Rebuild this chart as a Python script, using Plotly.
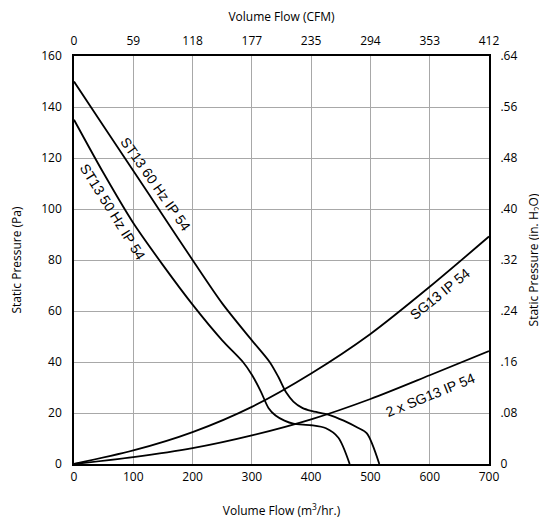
import plotly.graph_objects as go

# fan curves, volume flow in m3/hr, static pressure in Pa
st60_x = [0, 50, 100, 150, 200, 250, 300, 330, 345, 358, 370, 385, 400, 430, 455, 478, 494, 515]
st60_y = [150, 132.5, 115, 97.5, 80, 63, 48.5, 40, 34, 28, 24.5, 22, 20.8, 19.3, 17, 14.3, 12, 0]

st50_x = [0, 50, 100, 150, 200, 250, 285, 300, 315, 328, 340, 355, 370, 400, 425, 446, 465]
st50_y = [135, 114, 94.5, 78, 62.5, 48.5, 40, 35, 28.5, 22, 19, 17, 15.8, 15.2, 14, 10.3, 0]

# system curves
sg_x = [0, 100, 200, 300, 400, 500, 600, 700]
sg_y = [0, 5.3, 12.5, 22.4, 35.5, 51, 69.5, 89.2]

sg2_x = [0, 100, 200, 300, 400, 500, 600, 700]
sg2_y = [0, 2.7, 6.2, 11.2, 17.5, 25.5, 34.8, 44.3]

m3h_ticks = [0, 100, 200, 300, 400, 500, 600, 700]
cfm_labels = ["0", "59", "118", "177", "235", "294", "353", "412"]
pa_ticks = [0, 20, 40, 60, 80, 100, 120, 140, 160]
inh2o_labels = ["0", ".08", ".16", ".24", ".32", ".40", ".48", ".56", ".64"]

AXIS_FONT = dict(family="Open Sans, Lato, sans-serif", size=12, color="black")
LABEL_FONT = dict(family="Liberation Sans, Arial, sans-serif", size=14, color="black")
GRID = "#a8a8a8"

fig = go.Figure()

for xs, ys in [(st60_x, st60_y), (st50_x, st50_y), (sg_x, sg_y), (sg2_x, sg2_y)]:
    fig.add_trace(
        go.Scatter(
            x=xs, y=ys, mode="lines",
            line=dict(color="black", width=1.8, shape="spline", smoothing=0.8),
            showlegend=False, hoverinfo="skip",
        )
    )

# dummy trace so the secondary axes render
fig.add_trace(
    go.Scatter(
        x=[0, 700], y=[0, 160], xaxis="x2", yaxis="y2", mode="markers",
        marker=dict(opacity=0), showlegend=False, hoverinfo="skip",
    )
)

labels = [
    ("ST13 60 Hz IP 54", 138, 110, 55),
    ("ST13 50 Hz IP 54", 66, 99, 58),
    ("SG13 IP 54", 617, 66.6, -39),
    ("2 x SG13 IP 54", 601, 27, -22),
]
for text, x, y, ang in labels:
    fig.add_annotation(
        x=x, y=y, text=text, textangle=ang, showarrow=False,
        font=LABEL_FONT, xref="x", yref="y",
    )

# page body has an 8px margin, so the figure is shrunk by that much
fig.update_layout(
    width=539, height=516,
    margin=dict(l=66, r=58, t=48, b=60),
    plot_bgcolor="white", paper_bgcolor="white",
    font=AXIS_FONT,
    xaxis=dict(
        range=[0, 700], tickvals=m3h_ticks, showgrid=True, gridcolor=GRID, gridwidth=1,
        zeroline=False, showline=True, linecolor="black", linewidth=1.5, mirror=True,
        tickfont=AXIS_FONT, ticks="outside", ticklen=1, tickcolor="rgba(0,0,0,0)",
        automargin=False,
        title=dict(text="Volume Flow (m<sup>3</sup>/hr.)", font=AXIS_FONT, standoff=22),
    ),
    yaxis=dict(
        range=[0, 160], tickvals=pa_ticks, showgrid=True, gridcolor=GRID, gridwidth=1,
        zeroline=False, showline=True, linecolor="black", linewidth=1.5, mirror=True,
        tickfont=AXIS_FONT, ticks="outside", ticklen=8, tickcolor="rgba(0,0,0,0)",
        automargin=False,
        title=dict(text="Static Pressure (Pa)", font=AXIS_FONT, standoff=27),
    ),
    xaxis2=dict(
        overlaying="x", side="top", range=[0, 700], tickvals=m3h_ticks,
        ticktext=cfm_labels, showgrid=False, zeroline=False, tickfont=AXIS_FONT,
        ticks="outside", ticklen=5, tickcolor="rgba(0,0,0,0)", automargin=False,
        title=dict(text="Volume Flow (CFM)", font=AXIS_FONT, standoff=15),
    ),
    yaxis2=dict(
        overlaying="y", side="right", range=[0, 160], tickvals=pa_ticks,
        ticktext=inh2o_labels, showgrid=False, zeroline=False, tickfont=AXIS_FONT,
        ticks="outside", ticklen=8, tickcolor="rgba(0,0,0,0)", automargin=False,
        title=dict(text="Static Pressure (in. H<sub>2</sub>O)", font=AXIS_FONT, standoff=13),
    ),
)

fig.write_html("out.html")
